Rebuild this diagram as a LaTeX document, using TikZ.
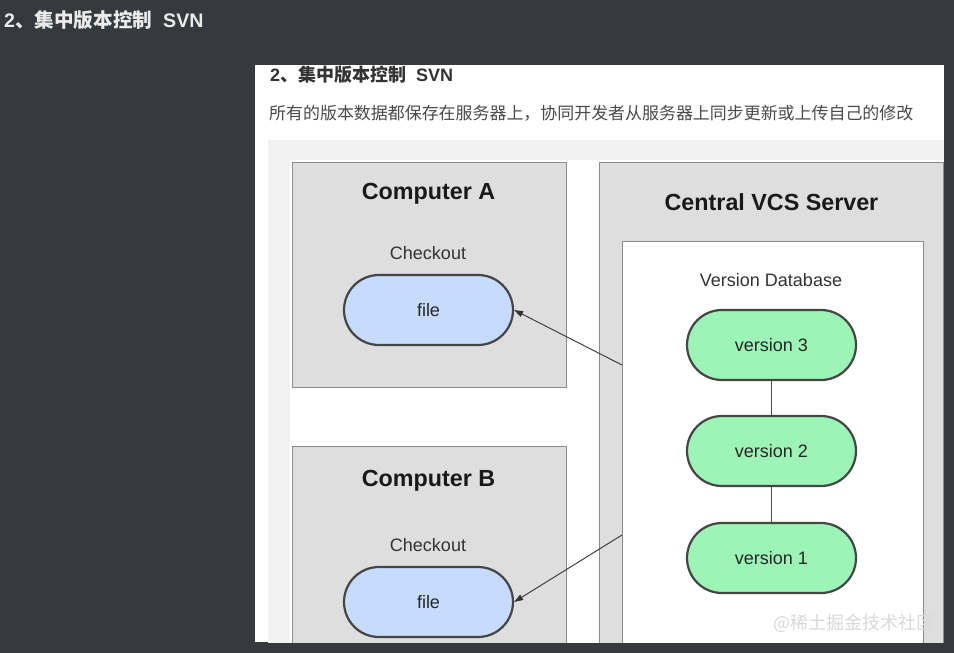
\documentclass[tikz,border=0pt]{standalone}
\usepackage{fontspec}
\setmainfont{Liberation Sans}
\newfontfamily\cjk{Noto Sans CJK SC}
\usetikzlibrary{shapes.misc,arrows.meta}
\definecolor{darkbg}{HTML}{36393E}
\definecolor{figbg}{HTML}{F2F2F2}
\definecolor{boxfill}{HTML}{DEDEDE}
\definecolor{boxline}{HTML}{8C8C8C}
\definecolor{pillblue}{HTML}{C6DBFD}
\definecolor{pillgreen}{HTML}{9CF5B6}
\definecolor{pillline}{HTML}{454545}
\definecolor{headtxt}{HTML}{333333}
\definecolor{bodytxt}{HTML}{4A4A4A}
\definecolor{wmark}{HTML}{D9D9D9}
\begin{document}
\begin{tikzpicture}[x=1bp,y=-1bp,
  box/.style={draw=boxline, line width=1.4bp, fill=boxfill, inner sep=0pt, anchor=north west},
  dbbox/.style={draw=boxline, line width=1.4bp, fill=white, inner sep=0pt, anchor=north west},
  pill/.style={rounded rectangle, draw=pillline, line width=2.2bp, minimum width=169bp, minimum height=70bp, inner sep=0pt, font=\fontsize{18bp}{20bp}\selectfont, text=black!85},
  filepill/.style={pill, fill=pillblue},
  verpill/.style={pill, fill=pillgreen},
  boxtitle/.style={font=\bfseries\fontsize{23.3bp}{25bp}\selectfont, text=black!90},
  sublabel/.style={font=\fontsize{18bp}{20bp}\selectfont, text=black!80},
  arr/.style={draw=black!80, line width=0.9bp, -{Triangle[length=9bp,width=6bp]}},
  vline/.style={draw=black!70, line width=1.2bp}
]
\useasboundingbox (0,0) rectangle (954,653);
\fill[darkbg] (0,0) rectangle (954,653);
% top title
\node[anchor=west, inner sep=0pt, text=white!92!black, font=\bfseries\fontsize{19.6bp}{21bp}\selectfont] (title) at (4,20) {2{\cjk 、集中版本控制}\ \ SVN};
% white panel
\node[fill=white, inner sep=0pt, anchor=north west, minimum width=689bp, minimum height=577bp] (panel) at (255,65) {};
\node[anchor=west, inner sep=0pt, text=headtxt, font=\bfseries\fontsize{18bp}{20bp}\selectfont] (head) at (270,75) {2{\cjk 、集中版本控制}\ \ SVN};
\node[anchor=west, inner sep=0pt, text=bodytxt, font=\cjk\fontsize{16.95bp}{19bp}\selectfont] (sent) at (269,113) {所有的版本数据都保存在服务器上，协同开发者从服务器上同步更新或上传自己的修改};
\begin{scope}
\clip (255,65) rectangle (944,642);
\node[fill=figbg, inner sep=0pt, anchor=north west, minimum width=676bp, minimum height=510bp] (fig) at (268,140) {};
\node[fill=white, inner sep=0pt, anchor=north west, minimum width=654bp, minimum height=490bp] (diag) at (290,160) {};
% boxes
\node[box, minimum width=274bp, minimum height=225bp] (compA) at (292,162) {};
\node[box, minimum width=274bp, minimum height=260bp] (compB) at (292,446) {};
\node[box, minimum width=344bp, minimum height=540bp] (server) at (599,162) {};
\node[dbbox, minimum width=301bp, minimum height=460bp] (db) at (622,241) {};
% labels
\node[boxtitle] (tA) at (428.5,194) {Computer A};
\node[sublabel] (cA) at (428,253) {Checkout};
\node[filepill] (fileA) at (428.5,310) {file};
\node[boxtitle] (tB) at (428.5,481) {Computer B};
\node[sublabel] (cB) at (428,545) {Checkout};
\node[filepill] (fileB) at (428.5,602) {file};
\node[boxtitle] (tS) at (771.5,202) {Central VCS Server};
\node[sublabel] (tD) at (771,280) {Version Database};
\node[verpill] (v3) at (771.5,345) {version 3};
\node[verpill] (v2) at (771.5,451) {version 2};
\node[verpill] (v1) at (771.5,558) {version 1};
\draw[vline] (v3.south) -- (v2.north);
\draw[vline] (v2.south) -- (v1.north);
\coordinate (sA) at (622,365);
\coordinate (sB) at (622,535);
\draw[arr] (sA) -- (fileA.east);
\draw[arr] (sB) -- (fileB.east);
\node[anchor=east, inner sep=0pt, text=wmark, font=\cjk\fontsize{18bp}{20bp}\selectfont] (wm) at (935,623) {@稀土掘金技术社区};
\end{scope}
\end{tikzpicture}
\end{document}
